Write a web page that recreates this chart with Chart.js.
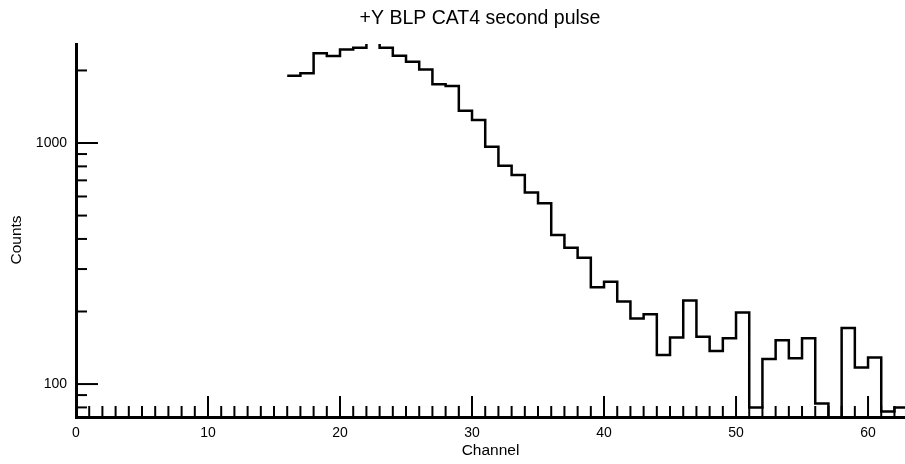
<!DOCTYPE html>
<html lang="en">
  <head>
    <meta charset="UTF-8" />
    <title>+Y BLP CAT4 second pulse</title>
    <style type="text/css">
      body {
        background-color: #ffffff;
        margin: 0;
        padding: 0;
      }
      #pulse-chart {
        display: block;
      }
    </style>
  </head>
  <body>
    <canvas id="pulse-chart" width="905" height="464"></canvas>

    <script src="https://cdn.jsdelivr.net/npm/chart.js@4.4.1/dist/chart.umd.min.js"></script>
    <script type="text/javascript">
      // histogram bins: channel i covers [i, i+1]
      const channels = [
        16, 17, 18, 19, 20, 21, 22, 23, 24, 25, 26, 27, 28, 29, 30, 31,
        32, 33, 34, 35, 36, 37, 38, 39, 40, 41, 42, 43, 44, 45, 46, 47,
        48, 49, 50, 51, 52, 53, 54, 55, 56, 57, 58, 59, 60, 61, 62,
      ];
      const counts = [
        1900, 1945, 2355, 2295, 2445, 2485, 2700, 2485, 2300, 2175, 2020, 1755, 1725, 1360, 1245, 965,
        805, 737, 624, 562, 415, 368, 334, 252, 266, 220, 187, 195, 132, 156, 222, 157,
        137, 155, 198, 80, 127, 152, 128, 155, 83, 60, 171, 117, 129, 77, 80,
      ];
      const lastEdge = 63;

      const xTickValues = [...Array(63).keys()];
      const xLabelValues = [0, 10, 20, 30, 40, 50, 60];
      const yTickValues = [80, 90, 100, 200, 300, 400, 500, 600, 700, 800, 900, 1000, 2000];
      const yLabelValues = [100, 1000];
      const chartTitle = "+Y BLP CAT4 second pulse";
      const yTitle = "Counts";

      const font = "'Liberation Sans', Arial, sans-serif";

      const stepPoints = channels.map((c, i) => ({ x: c, y: counts[i] }));
      stepPoints.push({ x: lastEdge, y: counts[counts.length - 1] });

      // inward tick marks (long ones on labelled values), y title and chart title
      const innerTicks = {
        id: "innerTicks",
        afterDatasetsDraw(chart) {
          const { ctx, scales } = chart;
          const x = scales.x;
          const y = scales.y;
          ctx.save();
          ctx.strokeStyle = "#000";
          ctx.lineWidth = 2;
          x.ticks.forEach((t) => {
            const px = x.getPixelForValue(t.value);
            const len = xLabelValues.includes(t.value) ? 21 : 11;
            ctx.beginPath();
            ctx.moveTo(px, x.top);
            ctx.lineTo(px, x.top - len);
            ctx.stroke();
          });
          y.ticks.forEach((t) => {
            const py = y.getPixelForValue(t.value);
            const len = yLabelValues.includes(t.value) ? 22 : 11;
            ctx.beginPath();
            ctx.moveTo(y.right, py);
            ctx.lineTo(y.right + len, py);
            ctx.stroke();
          });

          ctx.fillStyle = "#000";
          ctx.textAlign = "center";
          ctx.textBaseline = "middle";
          ctx.font = "19.5px " + font;
          ctx.fillText(chartTitle, 480, 19);

          ctx.translate(17, 240);
          ctx.rotate(-Math.PI / 2);
          ctx.font = "15.5px " + font;
          ctx.fillText(yTitle, 0, 0);
          ctx.restore();
        },
      };

      new Chart("pulse-chart", {
        type: "line",
        data: {
          datasets: [
            {
              data: stepPoints,
              stepped: true,
              borderColor: "#000",
              borderWidth: 2.5,
              pointRadius: 0,
              fill: false,
            },
          ],
        },
        options: {
          responsive: false,
          animation: false,
          layout: { padding: { top: 44, left: 0, right: 0, bottom: 0 } },
          plugins: {
            legend: { display: false },
            tooltip: { enabled: false },
            title: { display: false },
          },
          scales: {
            x: {
              type: "linear",
              min: 0,
              max: 62.8,
              grid: { display: false, drawTicks: false },
              border: { display: true, color: "#000", width: 3 },
              afterBuildTicks: (scale) => {
                scale.ticks = xTickValues.map((v) => ({ value: v }));
              },
              afterFit: (scale) => {
                scale.height = 47;
              },
              ticks: {
                autoSkip: false,
                maxRotation: 0,
                padding: 8,
                color: "#000",
                font: { family: font, size: 14 },
                callback: (v) => (xLabelValues.includes(v) ? String(v) : ""),
              },
              title: {
                display: true,
                text: "Channel",
                color: "#000",
                font: { family: font, size: 15.5 },
                padding: { top: 0, bottom: 4 },
              },
            },
            y: {
              type: "logarithmic",
              min: 73,
              max: 2575,
              grid: { display: false, drawTicks: false },
              border: { display: true, color: "#000", width: 3 },
              afterBuildTicks: (scale) => {
                scale.ticks = yTickValues.map((v) => ({ value: v }));
              },
              afterFit: (scale) => {
                scale.width = 76;
              },
              ticks: {
                autoSkip: false,
                padding: 9,
                color: "#000",
                font: { family: font, size: 14 },
                callback: (v) => (yLabelValues.includes(v) ? String(v) : ""),
              },
            },
          },
        },
        plugins: [innerTicks],
      });
    </script>
  </body>
</html>
